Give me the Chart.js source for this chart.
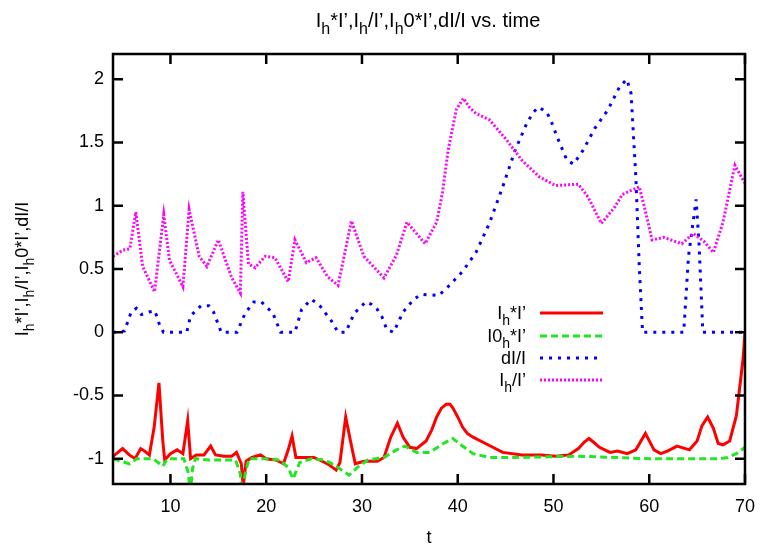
<!DOCTYPE html>
<html>
<head>
<meta charset="utf-8">
<title>Ih*I', Ih/I', Ih0*I', dI/I vs. time</title>
<script src="https://cdn.jsdelivr.net/npm/chart.js@4.4.1/dist/chart.umd.min.js"></script>
<style>
  body { margin: 0; background: #fff; }
  canvas { display: block; }
</style>
</head>
<body>
<canvas id="chart" width="767" height="547"></canvas>
<script>
// Ih*I'
const tIh = [4.0, 4.2, 5.0, 5.7, 6.3, 6.9, 7.3, 7.8, 8.3, 8.8, 9.2, 9.4, 10.0, 10.7, 11.3, 11.8, 12.1, 12.7, 13.5, 14.2, 14.7, 15.6, 16.4, 16.9, 17.4, 17.6, 17.9, 18.5, 19.4, 20.0, 21.0, 21.8, 22.3, 22.7, 23.1, 24.0, 25.0, 26.1, 26.6, 27.3, 27.7, 28.3, 28.8, 29.3, 30.2, 31.6, 32.3, 33.0, 33.7, 34.3, 35.0, 35.7, 36.7, 37.3, 37.8, 38.3, 38.8, 39.2, 39.5, 40.0, 40.5, 41.0, 41.6, 42.9, 44.7, 46.7, 48.8, 50.2, 51.6, 52.6, 53.2, 53.7, 54.2, 54.8, 55.9, 56.7, 57.7, 58.6, 59.6, 60.5, 61.2, 61.9, 62.9, 64.2, 65.0, 65.5, 66.1, 66.7, 67.2, 67.7, 68.4, 69.1, 69.8, 70.0];
const ih = [-0.98, -0.97, -0.92, -0.97, -1.0, -0.92, -0.94, -0.97, -0.75, -0.40, -0.86, -1.01, -0.96, -0.93, -0.96, -0.70, -1.0, -0.97, -0.97, -0.90, -0.97, -0.98, -0.98, -0.95, -1.04, -1.22, -1.02, -0.99, -0.97, -1.0, -1.01, -1.04, -0.93, -0.82, -0.99, -0.99, -0.99, -1.03, -1.05, -1.09, -1.03, -0.67, -0.86, -1.04, -1.02, -1.02, -0.99, -0.83, -0.72, -0.83, -0.91, -0.92, -0.86, -0.77, -0.67, -0.60, -0.57, -0.57, -0.60, -0.67, -0.75, -0.80, -0.83, -0.88, -0.95, -0.97, -0.97, -0.98, -0.97, -0.92, -0.87, -0.84, -0.87, -0.91, -0.95, -0.94, -0.96, -0.93, -0.80, -0.93, -0.96, -0.94, -0.90, -0.93, -0.86, -0.74, -0.67, -0.76, -0.88, -0.89, -0.86, -0.66, -0.21, 0.0];

// I0h*I'
const tI0 = [4.0, 5.7, 6.5, 8.2, 9.2, 9.7, 11.4, 11.9, 12.05, 12.3, 12.6, 14.0, 16.8, 17.3, 17.5, 17.8, 18.2, 20.2, 21.4, 22.3, 22.8, 23.5, 24.7, 26.1, 27.1, 28.65, 29.5, 30.6, 32.3, 33.6, 34.5, 35.7, 37.1, 38.5, 39.5, 40.5, 41.6, 43.3, 46.0, 52.5, 60.0, 67.4, 68.2, 69.1, 70.0];
const i0 = [-1.0, -1.04, -1.0, -1.0, -1.06, -1.0, -1.0, -1.12, -1.3, -1.08, -1.0, -1.01, -1.01, -1.12, -1.3, -1.12, -1.0, -1.0, -1.01, -1.07, -1.16, -1.03, -1.0, -1.01, -1.05, -1.13, -1.07, -1.01, -0.99, -0.93, -0.90, -0.95, -0.95, -0.88, -0.84, -0.90, -0.96, -0.99, -0.99, -0.98, -1.0, -1.0, -0.99, -0.96, -0.91];

// dI/I
const tDi = [4.0, 4.4, 5.2, 5.9, 6.45, 6.96, 7.75, 8.37, 8.86, 9.27, 11.7, 12.1, 13.2, 14.0, 14.5, 15.3, 16.95, 17.8, 18.7, 19.5, 20.7, 21.5, 23.0, 23.7, 24.7, 25.5, 26.8, 27.5, 28.3, 29.2, 30.4, 31.0, 31.6, 32.1, 32.6, 33.3, 34.3, 35.4, 36.2, 38.0, 39.0, 40.5, 41.9, 43.3, 44.7, 46.0, 47.2, 47.9, 48.45, 49.3, 49.8, 50.35, 51.4, 52.1, 53.1, 54.3, 55.7, 56.9, 57.65, 58.1, 58.6, 58.96, 59.3, 63.6, 64.1, 64.9, 65.2, 65.6, 70.0];
const di = [0, 0, 0.01, 0.16, 0.19, 0.14, 0.16, 0.17, 0.06, 0, 0, 0.13, 0.21, 0.21, 0.16, 0, 0, 0.15, 0.24, 0.24, 0.15, 0, 0, 0.18, 0.26, 0.22, 0.09, 0, 0, 0.15, 0.24, 0.22, 0.18, 0.12, 0.02, 0, 0.16, 0.26, 0.30, 0.29, 0.36, 0.48, 0.63, 0.86, 1.15, 1.44, 1.65, 1.74, 1.78, 1.74, 1.66, 1.55, 1.36, 1.33, 1.44, 1.61, 1.76, 1.94, 2.0, 1.89, 1.23, 0.52, 0, 0, 0.6, 1.05, 0.7, 0, 0];

// Ih/I'
const tRatio = [4.0, 4.2, 5.06, 5.76, 6.38, 7.1, 8.34, 9.3, 9.9, 11.3, 11.95, 13.0, 13.8, 15.0, 16.4, 17.3, 17.56, 18.15, 18.85, 19.9, 20.9, 22.3, 23.0, 24.2, 25.2, 26.4, 27.5, 28.9, 30.2, 32.3, 33.6, 34.7, 36.6, 37.8, 38.4, 39.0, 39.85, 40.6, 41.2, 41.9, 43.3, 45.0, 46.7, 48.5, 50.2, 52.6, 53.6, 55.0, 56.4, 57.2, 58.96, 59.5, 60.3, 61.5, 63.4, 64.6, 65.7, 66.7, 67.7, 68.95, 69.9, 70.0];
const ratio = [0.60, 0.61, 0.65, 0.66, 0.95, 0.52, 0.32, 0.93, 0.57, 0.36, 0.97, 0.60, 0.52, 0.73, 0.43, 0.31, 1.11, 0.54, 0.51, 0.60, 0.59, 0.40, 0.73, 0.55, 0.59, 0.44, 0.37, 0.88, 0.60, 0.43, 0.61, 0.87, 0.70, 0.87, 1.10, 1.44, 1.76, 1.85, 1.78, 1.73, 1.68, 1.53, 1.36, 1.23, 1.16, 1.17, 1.07, 0.86, 0.99, 1.09, 1.15, 0.99, 0.73, 0.75, 0.70, 0.78, 0.72, 0.63, 0.87, 1.32, 1.19, 1.18];

const xTicks = [10, 20, 30, 40, 50, 60, 70];
const yTicks = [-1, -0.5, 0, 0.5, 1, 1.5, 2];

const titleText = 'I_h*I’,I_h/I’,I_h0*I’,dI/I vs. time';
const yTitle = 'I_h*I’,I_h/I’,I_h0*I’,dI/I';
const xTitle = 't';

const FAMILY = '"Liberation Sans", Arial, sans-serif';

const pts = (ts, vs) => ts.map((x, i) => ({ x: x, y: vs[i] }));

// split "I_h0" into [text, isSubscript] pieces
function richParts(s) {
  const out = [];
  let buf = '';
  for (let i = 0; i < s.length; i++) {
    if (s[i] === '_') {
      if (buf) out.push([buf, false]);
      buf = '';
      out.push([s[++i], true]);
    } else {
      buf += s[i];
    }
  }
  if (buf) out.push([buf, false]);
  return out;
}

function drawRich(ctx, s, x, y, align, size) {
  size = size || 18;
  const main = size + 'px ' + FAMILY;
  const sub = Math.round(size * 0.8) + 'px ' + FAMILY;
  const drop = Math.round(size * 0.33);
  const segs = richParts(s);
  const widths = segs.map(([t, isSub]) => {
    ctx.font = isSub ? sub : main;
    return ctx.measureText(t).width;
  });
  const total = widths.reduce((a, b) => a + b, 0);
  let cx = align === 'center' ? x - total / 2 : align === 'right' ? x - total : x;
  ctx.textAlign = 'left';
  ctx.textBaseline = 'alphabetic';
  ctx.fillStyle = '#000';
  segs.forEach(([t, isSub], i) => {
    ctx.font = isSub ? sub : main;
    ctx.fillText(t, cx, isSub ? y + drop : y);
    cx += widths[i];
  });
}

const frame = {
  id: 'frame',
  afterDraw(chart) {
    const ctx = chart.ctx;
    const a = chart.chartArea;
    const xs = chart.scales.x;
    const ys = chart.scales.y;
    ctx.save();

    // box and inward ticks on all four sides
    ctx.strokeStyle = '#000';
    ctx.lineWidth = 2.5;
    ctx.strokeRect(a.left, a.top, a.right - a.left, a.bottom - a.top);
    ctx.beginPath();
    yTicks.forEach(v => {
      const py = ys.getPixelForValue(v);
      ctx.moveTo(a.left, py); ctx.lineTo(a.left + 10, py);
      ctx.moveTo(a.right, py); ctx.lineTo(a.right - 10, py);
    });
    xTicks.forEach(v => {
      const px = xs.getPixelForValue(v);
      ctx.moveTo(px, a.bottom); ctx.lineTo(px, a.bottom - 10);
      ctx.moveTo(px, a.top); ctx.lineTo(px, a.top + 10);
    });
    ctx.stroke();

    // titles
    drawRich(ctx, titleText, 428, 27, 'center', 20);
    drawRich(ctx, xTitle, (a.left + a.right) / 2, 543, 'center');
    ctx.save();
    ctx.translate(28, (a.top + a.bottom) / 2);
    ctx.rotate(-Math.PI / 2);
    drawRich(ctx, yTitle, 0, 0, 'center');
    ctx.restore();

    // key: label on the left, line sample on the right
    const rows = [313, 336, 358, 380];
    chart.data.datasets.forEach((ds, i) => {
      const y = rows[i];
      drawRich(ctx, ds.label, 526, y + 6, 'right');
      ctx.beginPath();
      ctx.strokeStyle = ds.borderColor;
      ctx.lineWidth = ds.borderWidth;
      ctx.setLineDash(ds.borderDash || []);
      ctx.moveTo(540, y);
      ctx.lineTo(603, y);
      ctx.stroke();
    });
    ctx.restore();
  }
};

new Chart(document.querySelector('#chart'), {
  type: 'line',
  data: {
    datasets: [
      { label: 'I_h*I’', data: pts(tIh, ih), borderColor: '#ff0000', borderWidth: 3, order: 4 },
      { label: 'I0_h*I’', data: pts(tI0, i0), borderColor: '#22e622', borderWidth: 3, borderDash: [7, 4], order: 3 },
      { label: 'dI/I', data: pts(tDi, di), borderColor: '#0000ff', borderWidth: 3, borderDash: [3, 6], order: 2 },
      { label: 'I_h/I’', data: pts(tRatio, ratio), borderColor: '#ff00ff', borderWidth: 3, borderDash: [2, 2], order: 1 }
    ]
  },
  options: {
    responsive: false,
    animation: false,
    layout: { padding: { top: 54, right: 15, left: 0, bottom: 0 } },
    elements: { point: { radius: 0 }, line: { tension: 0, fill: false } },
    plugins: { legend: { display: false }, title: { display: false }, tooltip: { enabled: false } },
    scales: {
      x: {
        type: 'linear',
        min: 4,
        max: 70,
        grid: { display: false, drawTicks: false },
        border: { display: false },
        afterBuildTicks: s => { s.ticks = xTicks.map(v => ({ value: v })); },
        afterFit: s => { s.height = 63; },
        ticks: { color: '#000', padding: 12, maxRotation: 0, font: { family: FAMILY, size: 18 }, callback: v => String(v) }
      },
      y: {
        type: 'linear',
        min: -1.2,
        max: 2.2,
        grid: { display: false, drawTicks: false },
        border: { display: false },
        afterBuildTicks: s => { s.ticks = yTicks.map(v => ({ value: v })); },
        afterFit: s => { s.width = 113; },
        ticks: { color: '#000', padding: 9, font: { family: FAMILY, size: 18 }, callback: v => String(v) }
      }
    }
  },
  plugins: [frame]
});
</script>
</body>
</html>
